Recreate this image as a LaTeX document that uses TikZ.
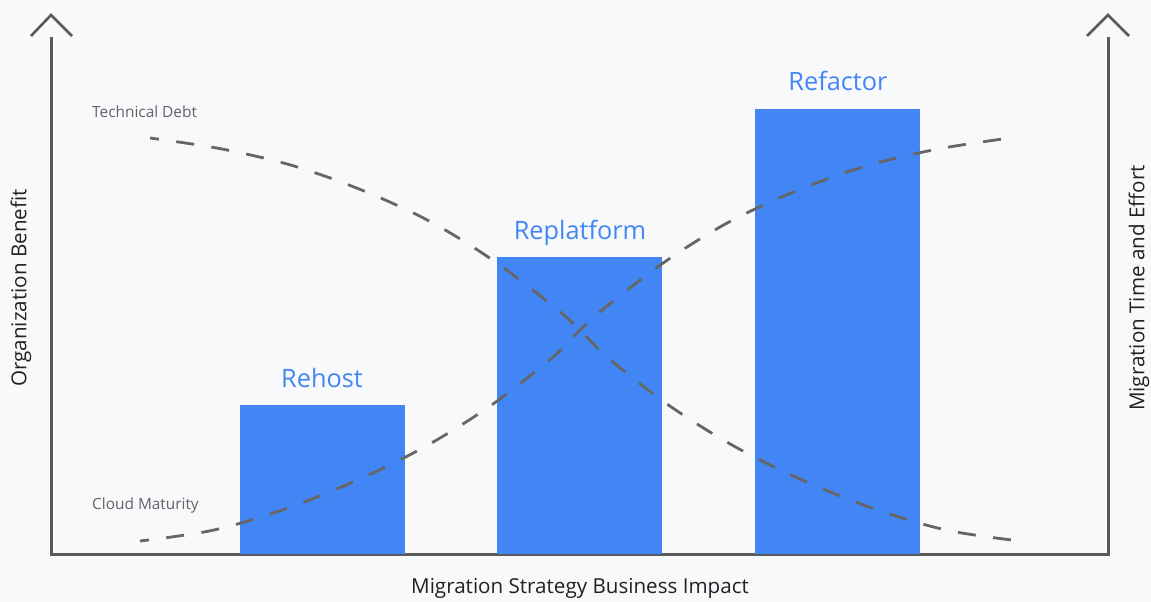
\documentclass[tikz,border=0pt]{standalone}
\usepackage{fontspec}
\setmainfont{Open Sans}
\definecolor{bg}{HTML}{F8F9FA}
\definecolor{barblue}{HTML}{4285F4}
\definecolor{axisgrey}{HTML}{595959}
\definecolor{dashgrey}{HTML}{666666}
\definecolor{txtdark}{HTML}{202124}
\definecolor{txtgrey}{HTML}{5F6368}
\begin{document}
\begin{tikzpicture}[x=1pt,y=-1pt,
  bar/.style={fill=barblue, draw=none, anchor=south west, inner sep=0pt, outer sep=0pt},
  barlabel/.style={text=barblue, font=\fontsize{25.3}{29}\selectfont, anchor=base, inner sep=0pt},
  axislabel/.style={text=txtdark, font=\fontsize{20.6}{24}\selectfont, inner sep=0pt},
  curvelabel/.style={text=txtgrey, font=\fontsize{15.4}{18}\selectfont, anchor=base west, inner sep=0pt},
  axisline/.style={draw=axisgrey, line width=3pt},
  chevron/.style={draw=axisgrey, line width=2.6pt, line cap=butt, line join=miter},
  dashcurve/.style={draw=dashgrey, line width=2.8pt, dash pattern=on 18pt off 17.5pt, dash phase=9pt}
]
\fill[bg] (0,0) rectangle (1151,602);
\useasboundingbox (0,0) rectangle (1151,602);

% axes
\coordinate (ltop) at (51,37);
\coordinate (origin) at (51,554);
\coordinate (rbot) at (1108,554);
\coordinate (rtop) at (1108,37);
\draw[axisline] (ltop) -- (origin) -- (rbot) -- (rtop);
\draw[chevron] (31,36) -- (51,15) -- (72,36);
\draw[chevron] (1087,36) -- (1108,15) -- (1129,36);

% bars
\node[bar, minimum width=165pt, minimum height=149pt] (rehost) at (240,554) {};
\node[bar, minimum width=165pt, minimum height=297pt] (replatform) at (497,554) {};
\node[bar, minimum width=165pt, minimum height=445pt] (refactor) at (755,554) {};

% curves
\draw[dashcurve] plot[smooth, tension=0.55] coordinates {(150,138) (222,149) (294,166) (364,191) (431,222) (494,261) (553,306) (580,330) (607,357) (667,404) (732,445) (800,479) (872,508) (946,530) (1020,541)};
\draw[dashcurve] plot[smooth, tension=0.55] coordinates {(140,541) (214,530) (288,508) (360,479) (428,445) (493,404) (553,357) (580,330) (607,306) (666,261) (729,222) (796,191) (866,166) (938,149) (1010,138)};

% labels
\node[barlabel] (rehostlbl) at (322,387) {Rehost};
\node[barlabel] (replatformlbl) at (580,239) {Replatform};
\node[barlabel] (refactorlbl) at (838,90) {Refactor};
\node[curvelabel] (techdebt) at (92,117) {Technical Debt};
\node[curvelabel] (cloudmat) at (92,509) {Cloud Maturity};
\node[axislabel, anchor=base] (xlabel) at (580,593) {Migration Strategy Business Impact};
\node[axislabel, rotate=90] (ylabel) at (21,288) {Organization Benefit};
\node[axislabel, rotate=90] (y2label) at (1139,288) {Migration Time and Effort};
\end{tikzpicture}
\end{document}
